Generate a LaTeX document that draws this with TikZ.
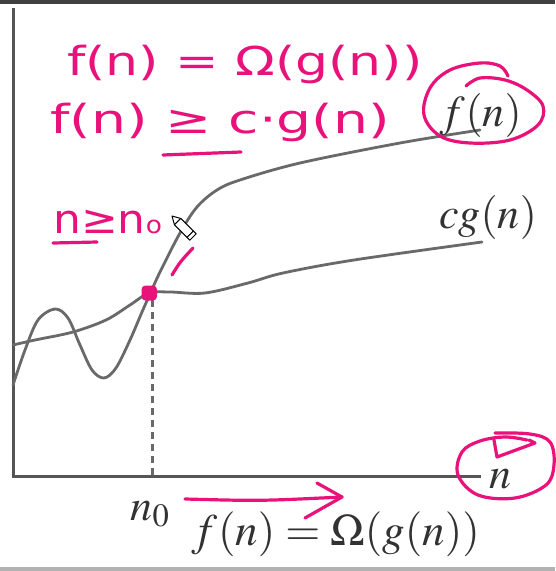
\documentclass[tikz,border=0pt]{standalone}
\usepackage{mathptmx}
\usepackage[no-math]{fontspec}
\newfontfamily\hand{DejaVu Sans}
\definecolor{pk}{RGB}{232,18,122}
\definecolor{cv}{RGB}{105,105,105}
\definecolor{ax}{RGB}{85,85,85}
\definecolor{lb}{RGB}{50,50,50}
\tikzset{
  curve/.style={draw=cv, line width=2.8pt, line cap=round, line join=round},
  axisline/.style={draw=ax, line width=3pt},
  lab/.style={font=\fontsize{44}{48}\selectfont, text=lb, inner sep=0pt},
  hw/.style={font=\hand\fontsize{40}{42}\selectfont, text=pk, inner sep=0pt},
  pkline/.style={draw=pk, line width=3.2pt, line cap=round, line join=round},
}
\begin{document}
\begin{tikzpicture}[x=1pt,y=-1pt]
\useasboundingbox (0,0) rectangle (555,571);
\fill[white] (0,0) rectangle (555,571);
\fill[black!75] (0,0) rectangle (555,4);
\fill[black!30] (0,567) rectangle (555,571);
% axes
\coordinate (o) at (13,476);
\coordinate (ytop) at (13,8);
\coordinate (xend) at (481,476);
\draw[axisline] (ytop) -- (o) -- (xend);
\node[lab, anchor=base] (nlab) at (500,488) {$n$};
% curves
\draw[curve] plot[smooth, tension=0.55] coordinates {(13,385) (25,350) (38,320) (55,309) (68,318) (80,345) (92,370) (104,378) (116,368) (130,340) (142,312) (150,294) (160,272) (180,233) (197,207) (217,190) (240,180) (300,163) (400,143) (480,130)};
\draw[curve] plot[smooth, tension=0.55] coordinates {(13,345) (35,340) (73,332) (106,320) (130,305) (149,293) (170,292) (205,293) (248,283) (283,273) (354,260) (482,242)};
\node[lab, anchor=base] (flab) at (481,126) {$f(n)$};
\node[lab, anchor=base] (glab) at (488,228) {$cg(n)$};
% n0
\coordinate (top0) at (152,300);
\coordinate (bot0) at (152,476);
\draw[draw=cv, line width=3pt, dash pattern=on 7pt off 5pt] (top0) -- (bot0);
\node[lab, anchor=base] (n0) at (150,520) {$n_0$};
\node[lab, anchor=base, font=\fontsize{45}{48}\selectfont] (omega) at (336,545) {$f(n)=\Omega(g(n))$};
% pink annotations
\fill[pk, rounded corners=4pt] (141.5,285.5) rectangle (157,300.5);
\node[hw, anchor=base west] (h1) at (67,75) {\scalebox{1.3}[1]{f(n) = Ω(g(n))}};
\node[hw, anchor=base west] (h2) at (50,133) {\scalebox{1.38}[1]{f(n) ≥ c·g(n)}};
\node[hw, anchor=base west] (h3) at (53,233) {\scalebox{1.1}[1]{n≥n{\fontsize{24}{24}\selectfont o}}};
\draw[pkline] (163,155) -- (241,152);
\draw[pkline] (53,243) -- (97,242);
\draw[pkline] (172,275) .. controls (180,262) .. (193,248);
% pencil cursor
\draw[black, line width=1pt, fill=white, line join=round] (172,216) -- (180.75,218.45) -- (196.15,233.85) -- (189.85,240.15) -- (174.45,224.75) -- cycle;
\draw[black, line width=1pt] (180.75,218.45) -- (174.45,224.75);
\draw[black, line width=1pt] (193.3,231) -- (187,237.3);
% circle around f(n)
\draw[pkline] plot[smooth, tension=0.6] coordinates {(466,86) (480,78) (505,80) (527,90) (543,106) (538,125) (510,140) (470,143) (440,136) (424,115) (430,88) (450,70) (480,63) (500,66) (508,76)};
% circle around n
\draw[pkline] plot[smooth, tension=0.6] coordinates {(495,433) (530,434) (550,442) (554,465) (546,485) (515,498) (478,495) (458,475) (462,452) (480,441) (505,437) (527,440)};
\draw[pkline] (494,440) -- (497,457) -- (535,443) -- (529,440);
% arrow
\coordinate (a1) at (185,499);
\coordinate (a2) at (342,497);
\draw[pkline] (a1) .. controls (260,501) .. (a2);
\draw[pkline] (317,483) -- (a2) -- (305,518);
\end{tikzpicture}
\end{document}
